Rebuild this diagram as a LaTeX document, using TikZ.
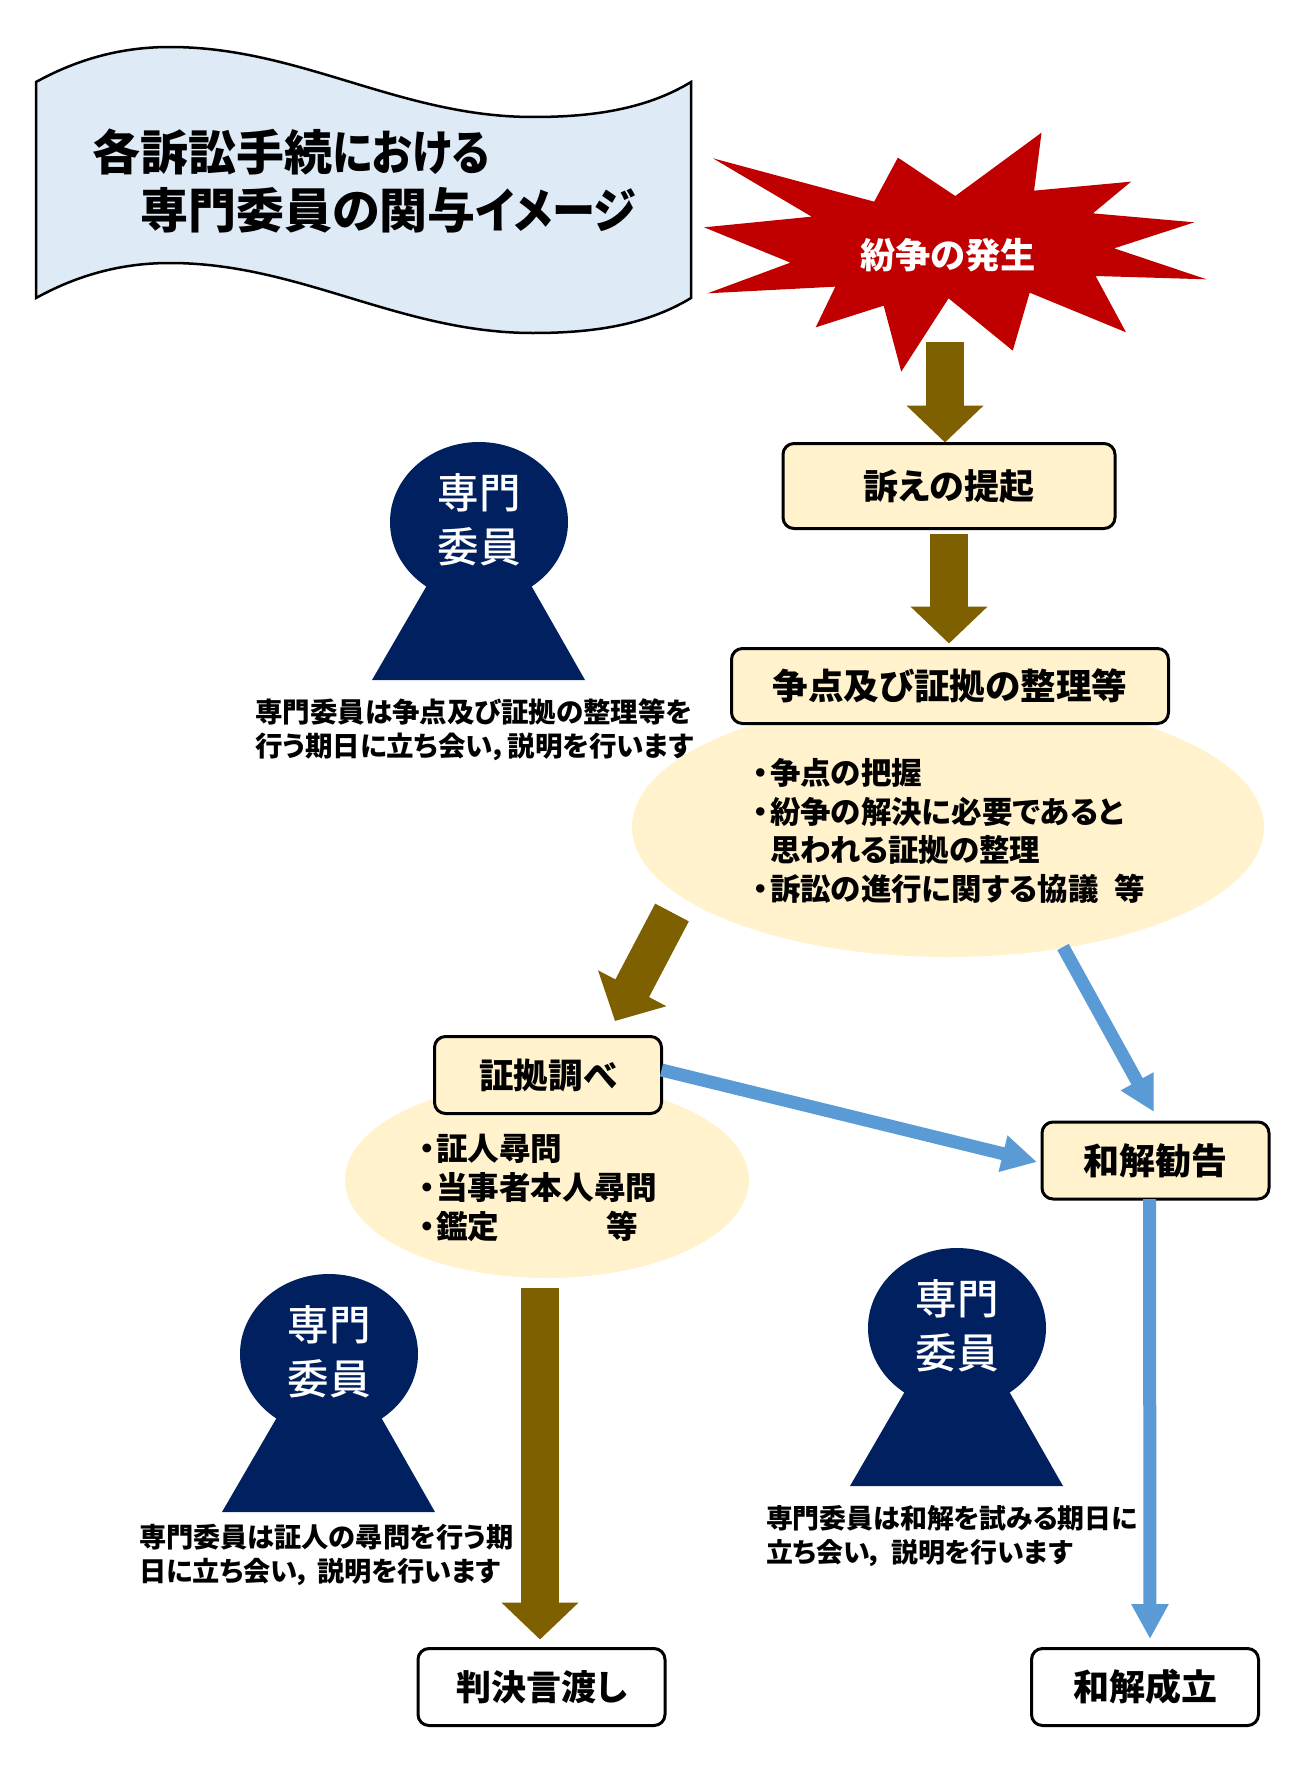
\documentclass[tikz,border=0pt]{standalone}
\usepackage{fontspec}
\setmainfont[RawFeature={+palt}]{Noto Sans CJK JP}
\newfontfamily\medfont[RawFeature={+palt}]{Noto Sans CJK JP Medium}
\usetikzlibrary{arrows.meta,shapes.geometric,calc}
\definecolor{cream}{HTML}{FFF2CC}
\definecolor{wavefill}{HTML}{DEEBF7}
\definecolor{starred}{HTML}{C00000}
\definecolor{brownar}{HTML}{7F6000}
\definecolor{bluear}{HTML}{5B9BD5}
\definecolor{navyfig}{HTML}{002060}
\newcommand{\fs}[1]{\fontsize{#1}{#1}\selectfont}
\newcommand{\dotb}{\makebox[12pt][l]{\hspace*{-5pt}\medfont ・}}
\newcommand{\narrowk}[2][0.86]{\scalebox{#1}[1]{#2}}
\tikzset{
  stepbox/.style={draw=black,line width=3pt,rounded corners=11pt,inner sep=0pt,outer sep=0pt,align=center,font=\bfseries\fs{35}},
  creambox/.style={stepbox,fill=cream},
  whitebox/.style={stepbox,fill=white},
  blob/.style={ellipse,fill=cream,inner sep=0pt,outer sep=0pt},
  brownarrow/.style={draw=brownar,line width=38pt,-{Triangle[width=75pt,length=37pt,fill=brownar]}},
  bluearrow/.style={draw=bluear,line width=13pt,-{Triangle[width=35pt,length=35pt,fill=bluear]}},
  note/.style={anchor=west,align=left,inner sep=0pt,outer sep=0pt,font=\bfseries\fontsize{27.2}{34}\selectfont},
  blobtext/.style={anchor=west,align=left,inner sep=0pt,outer sep=0pt},
  expert/.pic={
    \fill[navyfig] (0,0) ellipse [x radius=89,y radius=80];
    \fill[navyfig] (-107,158) -- (-53,65) -- (0,-23) -- (53,65) -- (106,158) -- cycle;
    \node[text=white,font=\medfont\fs{41.5},inner sep=0pt] (-top) at (0,-29) {専門};
    \node[text=white,font=\medfont\fs{41.5},inner sep=0pt] (-bot) at (0,25) {委員};
  }
}
\begin{document}
\begin{tikzpicture}[x=1pt,y=-1pt]
\useasboundingbox (0,0) rectangle (1307,1769);
\fill[white] (0,0) rectangle (1307,1769);
% title banner
\draw[fill=wavefill,line width=2.5pt,line join=miter]
  (36,82) .. controls (85,55) and (130,47) .. (170,47)
  .. controls (300,47) and (400,117) .. (533,117)
  .. controls (590,117) and (645,110) .. (691,82)
  -- (691,298)
  .. controls (645,326) and (590,333) .. (533,333)
  .. controls (400,333) and (300,263) .. (170,263)
  .. controls (130,263) and (85,271) .. (36,298) -- cycle;
\node[anchor=west,inner sep=0pt,font=\bfseries\fs{48}] (title1) at (92,152) {各訴訟手続\narrowk{における}};
\node[anchor=west,inner sep=0pt,font=\bfseries\fs{48}] (title2) at (140,210) {専門委員の関与\narrowk[0.9]{イメージ}};
% star
\begin{scope}[shift={(690,110)},x=0.338pt,y=-0.3333pt]
\fill[starred] (68,145) -- (545,275) -- (615,143) -- (785,258) -- (1040,68) -- (1018,242)
 -- (1305,215) -- (1192,310) -- (1492,337) -- (1255,415) -- (1528,508) -- (1200,498)
 -- (1290,667) -- (1005,548) -- (955,722) -- (765,565) -- (625,785) -- (573,587)
 -- (372,652) -- (430,530) -- (52,550) -- (297,458) -- (42,352) -- (360,320) -- cycle;
\end{scope}
\node[text=white,font=\bfseries\fs{35.3},inner sep=0pt] (star) at (948,255) {紛争の発生};
% blobs
\node[blob,minimum width=632pt,minimum height=260pt] (ell1) at (948,827) {};
\node[blob,minimum width=404pt,minimum height=196pt] (ell2) at (547,1180) {};
% boxes
\node[creambox,minimum width=332pt,minimum height=85pt] (sosho) at (949,486) {訴えの提起};
\node[creambox,minimum width=437pt,minimum height=75pt,font=\bfseries\fs{35.6}] (sotan) at (950,686) {争点及び証拠の整理等};
\node[creambox,minimum width=227pt,minimum height=77pt,font=\bfseries\fs{34.5}] (shoko) at (548,1075) {証拠調べ};
\node[creambox,minimum width=227pt,minimum height=77pt,font=\bfseries\fs{36}] (kankoku) at (1155.5,1160.5) {和解勧告};
\node[whitebox,minimum width=247pt,minimum height=77pt] (hanketsu) at (541.5,1687) {判決言渡し};
\node[whitebox,minimum width=227pt,minimum height=77pt,font=\bfseries\fs{36}] (seiritsu) at (1145,1687) {和解成立};
% blob texts
\node[blobtext,font=\bfseries\fontsize{30.5}{38.6}\selectfont] (ell1t) at (758,831) {\dotb 争点の把握\\\dotb 紛争の解決に必要であると\\\hspace*{12pt}思われる証拠の整理\\\dotb 訴訟の進行に関する協議\hspace{16pt}等};
\node[blobtext,font=\bfseries\fontsize{31.6}{38.6}\selectfont] (ell2t) at (424,1188) {\dotb 証人尋問\\\dotb 当事者本人尋問\\\dotb\makebox[170pt][l]{鑑定}等};
% experts
\pic (p1) at (479,522) {expert};
\pic (p2) at (329,1354) {expert};
\pic (p3) at (957,1328) {expert};
\node[note,font=\bfseries\fontsize{27.5}{34}\selectfont] (n1) at (255,730) {専門委員は争点及び証拠の整理等を\\行う期日に立ち会い，\hspace{1pt}説明を行います};
\node[note] (n2) at (139,1555) {専門委員は証人の尋問を行う期\\日に立ち会い，\hspace{6pt}説明を行います};
\node[note,font=\bfseries\fontsize{26.9}{34}\selectfont] (n3) at (766,1536) {専門委員は和解を試みる期日に\\立ち会い，\hspace{8pt}説明を行います};
% connectors
\draw[brownarrow] ([shift={(-276,85.5)}]ell1.center) -- ([shift={(180.5,-15.5)}]shoko.north west);
\draw[brownarrow] ([shift={(-3,87)}]star.center) -- ([shift={(-4,-1)}]sosho.north);
\draw[brownarrow] ([shift={(0,5)}]sosho.south) -- ([shift={(-1,-5)}]sotan.north);
\draw[bluearrow] ([shift={(115,120)}]ell1.center) -- ([shift={(-1.5,-10)}]kankoku.north);
\draw[bluearrow] ([shift={(0,-5)}]shoko.east) -- ([shift={(-5,1.5)}]kankoku.west);
\draw[bluearrow] ([shift={(-6,0)}]kankoku.south) -- ([shift={(5,-9.5)}]seiritsu.north);
\draw[brownarrow] ([shift={(-7,10)}]ell2.south) -- ([shift={(-1.5,-9)}]hanketsu.north);
\end{tikzpicture}
\end{document}
